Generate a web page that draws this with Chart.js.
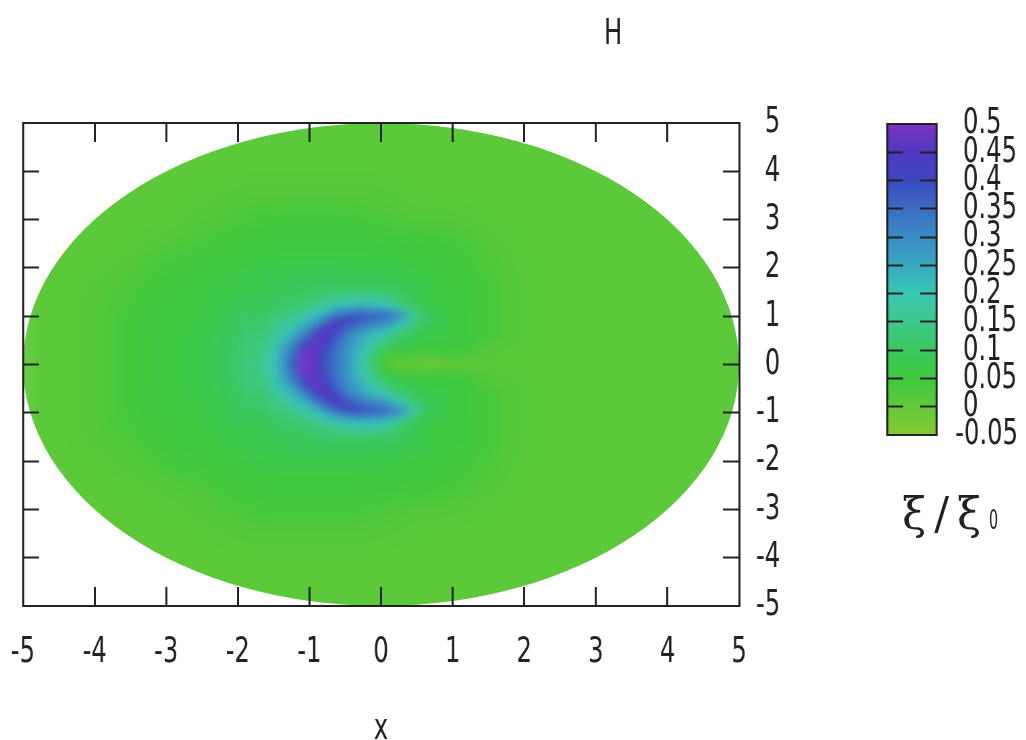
<!DOCTYPE html>
<html>
<head>
<meta charset="utf-8">
<title>H</title>
<script src="https://cdn.jsdelivr.net/npm/chart.js@4/dist/chart.umd.min.js"></script>
<style>
  html, body { margin: 0; background: #fff; }
  body { position: relative; width: 1026px; height: 740px; overflow: hidden; }
  canvas { position: absolute; top: 0; }
  #backChart { left: 0; filter: url(#softWide); }
  #mapChart { left: 0; filter: url(#soft); }
  /* gnuplot text is narrow, so the frame and colour box canvases are squeezed sideways */
  #frameChart, #barChart { transform: scaleX(0.675); transform-origin: 0 0; }
  #frameChart { left: 0; }
  #barChart { left: 860px; }
  .label { position: absolute; color: #222; white-space: nowrap; line-height: 1; }
  #title { left: 604px; top: 11px; font: 36px "DejaVu Sans", sans-serif; transform: scaleX(0.675); transform-origin: 0 0; }
  #barLabel { left: 902px; top: 488px; font: 44px "DejaVu Serif", serif; word-spacing: -6px; }
  #barLabel span { display: inline-block; margin-left: 8px; font: 26px "DejaVu Sans", sans-serif; transform: scaleX(0.55); transform-origin: 0 0; }
</style>
</head>
<body>
<svg width="0" height="0" style="position:absolute">
  <filter id="softWide" x="0" y="0" width="100%" height="100%" color-interpolation-filters="sRGB">
    <feGaussianBlur stdDeviation="18 12" edgeMode="duplicate"/>
  </filter>
  <filter id="soft" x="0" y="0" width="100%" height="100%" color-interpolation-filters="sRGB">
    <feGaussianBlur stdDeviation="5 3.5"/>
  </filter>
</svg>
<canvas id="backChart" width="1026" height="740"></canvas>
<canvas id="mapChart" width="1026" height="740"></canvas>
<canvas id="frameChart" width="1260" height="740"></canvas>
<canvas id="barChart" width="246" height="740"></canvas>
<div class="label" id="title">H</div>
<div class="label" id="barLabel">ξ / ξ<span>0</span></div>
<script>
// ticks
const xTicks = [-5, -4, -3, -2, -1, 0, 1, 2, 3, 4, 5];
const yTicks = [-5, -4, -3, -2, -1, 0, 1, 2, 3, 4, 5];
const barTicks = [-0.05, 0, 0.05, 0.1, 0.15, 0.2, 0.25, 0.3, 0.35, 0.4, 0.45, 0.5];

// palette of the colour box, one colour per bar tick
const paletteColors = ["#86c832", "#62c93a", "#3ec93c", "#3cc860", "#3ec88c", "#39c8b4",
  "#38a8c2", "#3b8cc4", "#3c6cc4", "#3c48c0", "#5038c0", "#7a34c4"];

const discRadius = 5;
const discValue = 0.01;

// whole disc, read every 0.5 (values x 100)
const coarseX = [-5, -4.5, -4, -3.5, -3, -2.5, -2, -1.5, -1, -0.5, 0, 0.5, 1, 1.5, 2, 2.5, 3, 3.5, 4, 4.5, 5];
const coarseY = [5, 4.5, 4, 3.5, 3, 2.5, 2, 1.5, 1, 0.5, 0, -0.5, -1, -1.5, -2, -2.5, -3, -3.5, -4, -4.5, -5];
const coarseRows = [
  [1,1,1,1,1,1,1,1,1,1,1,1,1,1,1,1,1,1,1,1,1],
  [1,1,1,1,1,1,1,1,1,1,1,1,1,1,1,1,1,1,1,1,1],
  [1,1,1,1,1,1,1,1,1,1,1,1,1,1,1,1,1,1,1,1,1],
  [1,1,1,1,1,1,2,2,2,2,2,1,1,1,1,1,1,1,1,1,1],
  [1,1,1,1,1,2,3,4,4,4,3,2,2,1,1,1,1,1,1,1,1],
  [1,1,1,1,2,3,5,6,6,6,6,5,4,2,1,1,1,1,1,1,1],
  [1,1,1,2,4,6,6,7,7,7,7,6,5,3,1,1,1,1,1,1,1],
  [1,1,2,3,5,6,7,10,11,11,10,8,6,3,1,1,1,1,1,1,1],
  [1,1,2,4,6,6,9,14,16,18,18,12,6,3,1,1,1,1,1,1,1],
  [1,1,2,4,6,7,10,18,20,18,14,8,5,3,1,1,1,1,1,1,1],
  [1,1,2,4,6,7,11,18,20,18,3,1,1,2,1,1,1,1,1,1,1],
  [1,1,2,4,6,7,10,18,20,18,14,8,5,3,1,1,1,1,1,1,1],
  [1,1,2,4,6,6,9,14,16,18,18,12,6,3,1,1,1,1,1,1,1],
  [1,1,2,3,5,6,7,10,11,11,10,8,6,3,1,1,1,1,1,1,1],
  [1,1,1,2,4,6,6,7,7,7,7,6,5,3,1,1,1,1,1,1,1],
  [1,1,1,1,2,3,5,6,6,6,6,5,4,2,1,1,1,1,1,1,1],
  [1,1,1,1,1,2,3,4,4,4,3,2,2,1,1,1,1,1,1,1,1],
  [1,1,1,1,1,1,2,2,2,2,2,1,1,1,1,1,1,1,1,1,1],
  [1,1,1,1,1,1,1,1,1,1,1,1,1,1,1,1,1,1,1,1,1],
  [1,1,1,1,1,1,1,1,1,1,1,1,1,1,1,1,1,1,1,1,1],
  [1,1,1,1,1,1,1,1,1,1,1,1,1,1,1,1,1,1,1,1,1]
];

// around the crescent, read every 0.2 (values x 100)
const midX = [-1.8, -1.6, -1.4, -1.2, -1, -0.8, -0.6, -0.4, -0.2, 0, 0.2, 0.4, 0.6, 0.8, 1, 1.2, 1.4, 1.6, 1.8];
const midY = [1.6, 1.4, 1.2, 1, 0.8, 0.6, 0.4, 0.2, 0, -0.2, -0.4, -0.6, -0.8, -1, -1.2, -1.4, -1.6];
const midRows = [
  [7,8,8,9,9,10,10,10,10,10,9,8,7,6,5,5,4,3,2],
  [8,9,10,10,11,12,13,14,14,13,12,10,9,7,6,5,4,3,2],
  [9,10,11,12,14,16,19,21,23,22,18,14,11,8,6,6,4,3,2],
  [10,11,13,15,19,24,30,36,40,38,33,20,12,9,6,6,4,3,2],
  [11,13,16,20,26,36,46,43,33,27,26,21,13,9,6,6,4,3,2],
  [12,15,19,26,38,50,44,33,25,20,18,16,11,8,6,6,4,3,2],
  [13,16,22,34,50,48,35,26,19,13,11,9,7,6,6,5,3,2,2],
  [13,17,24,40,56,42,33,24,16,8,6,6,6,5,4,3,2,2,1],
  [14,17,24,40,58,42,33,23,14,2,1,0,0,0,0,0,1,1,1],
  [13,17,24,40,56,42,33,24,16,8,6,6,6,5,4,3,2,2,1],
  [13,16,22,34,50,48,35,26,19,13,11,9,7,6,6,5,3,2,2],
  [12,15,19,26,38,50,44,33,25,20,18,16,11,8,6,6,4,3,2],
  [11,13,16,20,26,36,46,43,33,27,26,21,13,9,6,6,4,3,2],
  [10,11,13,15,19,24,30,36,40,38,33,20,12,9,6,6,4,3,2],
  [9,10,11,12,14,16,19,21,23,22,18,14,11,8,6,6,4,3,2],
  [8,9,10,10,11,12,13,14,14,13,12,10,9,7,6,5,4,3,2],
  [7,8,8,9,9,10,10,10,10,10,9,8,7,6,5,5,4,3,2]
];

// the crescent itself, read every 0.15 across and 0.125 down (values x 100)
const fineX = [-1.65, -1.5, -1.35, -1.2, -1.05, -0.9, -0.75, -0.6, -0.45, -0.3, -0.15, 0, 0.15, 0.3, 0.45, 0.6, 0.75];
const fineY = [1.375, 1.25, 1.125, 1, 0.875, 0.75, 0.625, 0.5, 0.375, 0.25, 0.125, 0,
  -0.125, -0.25, -0.375, -0.5, -0.625, -0.75, -0.875, -1, -1.125, -1.25, -1.375];
const fineRows = [
  [8,9,10,10,11,12,13,14,15,15,15,14,13,10,9,7,6],
  [9,10,11,11,12,14,16,18,20,21,21,20,17,13,10,8,6],
  [9,11,12,13,15,17,21,25,27,28,27,27,24,17,12,9,7],
  [10,12,13,15,18,22,27,33,37,38,37,36,33,30,18,11,8],
  [11,13,15,18,22,27,34,42,41,38,35,33,29,23,16,11,8],
  [11,14,17,21,26,33,43,44,36,32,29,26,23,18,12,9,8],
  [12,15,19,24,31,42,46,39,32,28,24,21,17,13,10,8,7],
  [13,17,22,28,37,47,44,36,30,25,21,17,13,10,8,7,6],
  [14,18,24,32,43,48,41,34,29,24,19,14,10,8,7,6,6],
  [14,19,26,35,47,47,39,33,28,22,17,10,7,6,6,5,5],
  [15,20,27,37,50,46,38,33,28,21,16,6,3,2,2,1,1],
  [15,20,28,38,52,46,38,33,28,20,15,4,1,0,0,0,0],
  [15,20,27,37,50,46,38,33,28,21,16,6,3,2,2,1,1],
  [14,19,26,35,47,47,39,33,28,22,17,10,7,6,6,5,5],
  [14,18,24,32,43,48,41,34,29,24,19,14,10,8,7,6,6],
  [13,17,22,28,37,47,44,36,30,25,21,17,13,10,8,7,6],
  [12,15,19,24,31,42,46,39,32,28,24,21,17,13,10,8,7],
  [11,14,17,21,26,33,43,44,36,32,29,26,23,18,12,9,8],
  [11,13,15,18,22,27,34,42,41,38,35,33,29,23,16,11,8],
  [10,12,13,15,18,22,27,33,37,38,37,36,33,30,18,11,8],
  [9,11,12,13,15,17,21,25,27,28,27,27,24,17,12,9,7],
  [9,10,11,11,12,14,16,18,20,21,21,20,17,13,10,8,6],
  [8,9,10,10,11,12,13,14,15,15,15,14,13,10,9,7,6]
];

const axisColor = "#222";
const tickFont = { family: "'DejaVu Sans', sans-serif", size: 36 };

function hexToRgb(hex) {
  return [1, 3, 5].map((i) => parseInt(hex.substr(i, 2), 16));
}

// colour of a value, taken between the two nearest palette entries
function colorFor(value) {
  const last = barTicks.length - 1;
  if (value <= barTicks[0]) return paletteColors[0];
  if (value >= barTicks[last]) return paletteColors[last];
  let i = 0;
  while (value > barTicks[i + 1]) i++;
  const t = (value - barTicks[i]) / (barTicks[i + 1] - barTicks[i]);
  const a = hexToRgb(paletteColors[i]);
  const b = hexToRgb(paletteColors[i + 1]);
  const c = a.map((v, k) => Math.round(v + (b[k] - v) * t));
  return `rgb(${c[0]},${c[1]},${c[2]})`;
}

function toPoints(xs, ys, rows) {
  const points = [];
  rows.forEach((row, r) => {
    row.forEach((v, c) => points.push({ x: xs[c], y: ys[r], v: v / 100 }));
  });
  return points;
}

// rectangular cell image, cached by size and colour
const cellCache = {};
function cellImage(w, h, color) {
  const key = `${w}x${h}${color}`;
  if (!cellCache[key]) {
    const c = document.createElement("canvas");
    c.width = w;
    c.height = h;
    const g = c.getContext("2d");
    g.fillStyle = color;
    g.fillRect(0, 0, w, h);
    cellCache[key] = c;
  }
  return cellCache[key];
}

function cellStyle(stepX, stepY) {
  return (ctx) => {
    const { x, y } = ctx.chart.scales;
    const w = Math.ceil(Math.abs(x.getPixelForValue(stepX) - x.getPixelForValue(0)));
    const h = Math.ceil(Math.abs(y.getPixelForValue(stepY) - y.getPixelForValue(0)));
    const p = ctx.raw;
    return cellImage(w + 1, h + 1, colorFor(p ? p.v : discValue));
  };
}

// a canvas is blurred by css and then cut to the disc, so the edge stays sharp
const discPlugin = {
  id: "disc",
  beforeDatasetsDraw(chart) {
    const { scales, canvas } = chart;
    const cx = scales.x.getPixelForValue(0);
    const cy = scales.y.getPixelForValue(0);
    const rx = scales.x.getPixelForValue(discRadius) - cx;
    const ry = cy - scales.y.getPixelForValue(discRadius);
    canvas.style.clipPath = `ellipse(${rx}px ${ry}px at ${cx}px ${cy}px)`;
  },
};

// the back layer is painted edge to edge so its blur has nothing white to pull in
const basePlugin = {
  id: "base",
  beforeDatasetsDraw(chart) {
    chart.ctx.fillStyle = colorFor(discValue);
    chart.ctx.fillRect(0, 0, chart.width, chart.height);
  },
};

function heatChart(id, datasets, plugins) {
  return new Chart(document.getElementById(id), {
    type: "scatter",
    plugins,
    data: { datasets },
    options: {
      responsive: false,
      animation: false,
      events: [],
      layout: { padding: { left: 23, top: 123, right: 287, bottom: 134 } },
      plugins: { legend: { display: false }, tooltip: { enabled: false } },
      scales: {
        x: { type: "linear", min: -5, max: 5, display: false },
        y: { type: "linear", min: -5, max: 5, display: false },
      },
    },
  });
}

heatChart("backChart", [
  { data: toPoints(coarseX, coarseY, coarseRows), pointStyle: cellStyle(0.5, 0.5), pointRadius: 5, clip: false },
], [basePlugin, discPlugin]);

heatChart("mapChart", [
  { data: toPoints(fineX, fineY, fineRows), pointStyle: cellStyle(0.15, 0.125), pointRadius: 5, clip: false, order: 0 },
  { data: toPoints(midX, midY, midRows), pointStyle: cellStyle(0.2, 0.2), pointRadius: 5, clip: false, order: 1 },
], [discPlugin]);

function noEdgePadding(s) {
  s.paddingLeft = s.paddingRight = s.paddingTop = s.paddingBottom = 0;
}

// no tick mark where a tick sits on the frame itself
function innerTickColor(min, max) {
  return (c) => (c.tick && (c.tick.value <= min || c.tick.value >= max) ? "transparent" : axisColor);
}

// tick lengths and vertical line widths are in squeezed canvas pixels
function frameAxis(position, ticks, tickLength, tickWidth, borderWidth, size, extra) {
  const horizontal = position === "top" || position === "bottom";
  return Object.assign({
    type: "linear",
    position,
    min: -5,
    max: 5,
    afterBuildTicks: (s) => { s.ticks = ticks.map((v) => ({ value: v })); },
    afterFit: (s) => {
      noEdgePadding(s);
      if (horizontal) s.height = size;
      else s.width = size;
    },
    border: { color: axisColor, width: borderWidth },
    grid: { drawOnChartArea: false, tickColor: innerTickColor(-5, 5), tickWidth, tickLength },
    ticks: { display: false },
  }, extra);
}

new Chart(document.getElementById("frameChart"), {
  type: "scatter",
  data: { datasets: [{ data: [] }] },
  options: {
    responsive: false,
    animation: false,
    events: [],
    layout: { padding: { left: 34, top: 123, right: 104 } },
    plugins: { legend: { display: false }, tooltip: { enabled: false } },
    scales: {
      x: frameAxis("bottom", xTicks, -19, 3, 2, 134, {
        ticks: { display: true, color: axisColor, font: tickFont, padding: 44, maxRotation: 0, autoSkip: false, callback: (v) => String(v) },
        title: { display: true, text: "x", color: axisColor, font: tickFont, padding: { top: 0, bottom: -11 } },
      }),
      xTop: frameAxis("top", xTicks, -19, 3, 2, 0),
      y: frameAxis("right", yTicks, -24, 2, 3, 61, {
        ticks: { display: true, color: axisColor, font: tickFont, padding: 52, crossAlign: "far", autoSkip: false, callback: (v) => String(v) },
      }),
      yLeft: frameAxis("left", yTicks, -24, 2, 3, 0),
    },
  },
});

function barGradient(ctx) {
  const { chart } = ctx;
  if (!chart.chartArea) return paletteColors[0];
  const g = chart.ctx.createLinearGradient(0, chart.chartArea.bottom, 0, chart.chartArea.top);
  paletteColors.forEach((c, i) => g.addColorStop(i / (paletteColors.length - 1), c));
  return g;
}

function barAxis(position, size, extra) {
  const min = barTicks[0];
  const max = barTicks[barTicks.length - 1];
  return Object.assign({
    type: "linear",
    position,
    min,
    max,
    afterBuildTicks: (s) => { s.ticks = barTicks.map((v) => ({ value: v })); },
    afterFit: (s) => { noEdgePadding(s); s.width = size; },
    border: { color: axisColor, width: 3, z: 1 },
    grid: { drawOnChartArea: false, tickColor: innerTickColor(min, max), tickWidth: 2, tickLength: -24, z: 1 },
    ticks: { display: false },
  }, extra);
}

function barFrameEdge(position) {
  return {
    type: "category",
    labels: [""],
    position,
    afterFit: (s) => { noEdgePadding(s); s.height = 0; },
    border: { color: axisColor, width: 2, z: 1 },
    grid: { display: false },
    ticks: { display: false },
  };
}

// the other labels start one space in, -0.05 hangs its minus out to the left
const barLabel = (v) => (v < 0 ? "" : "\u00a0") + String(+v.toFixed(2));

new Chart(document.getElementById("barChart"), {
  type: "bar",
  data: {
    labels: [""],
    datasets: [{
      data: [[barTicks[0], barTicks[barTicks.length - 1]]],
      backgroundColor: barGradient,
      barPercentage: 1,
      categoryPercentage: 1,
    }],
  },
  options: {
    responsive: false,
    animation: false,
    events: [],
    layout: { padding: { left: 40, top: 124, bottom: 305 } },
    plugins: { legend: { display: false }, tooltip: { enabled: false } },
    scales: {
      x: barFrameEdge("bottom"),
      xTop: barFrameEdge("top"),
      y: barAxis("right", 133, {
        ticks: { display: true, color: axisColor, font: tickFont, padding: 52, autoSkip: false, callback: barLabel },
      }),
      yLeft: barAxis("left", 0),
    },
  },
});
</script>
</body>
</html>
